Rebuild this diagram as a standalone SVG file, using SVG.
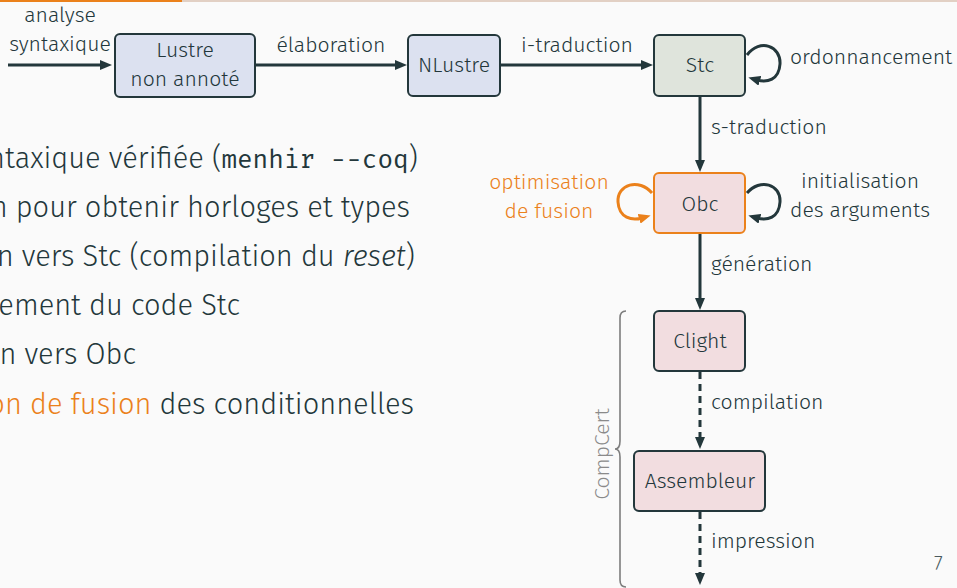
<svg xmlns="http://www.w3.org/2000/svg" width="957" height="588" viewBox="0 0 957 588">
  <style>
    .lbl { font-family: "Fira Sans", "Open Sans", "Noto Sans", sans-serif; font-weight: 300; font-size: 21.2px; fill: #23373b; }
    .body { font-family: "Fira Sans", "Open Sans", "Noto Sans", sans-serif; font-weight: 300; font-size: 29px; fill: #23373b; }
    .mono { font-family: "Fira Mono", "DejaVu Sans Mono", "Liberation Mono", monospace; font-weight: 400; font-size: 26px; }
    .orange { fill: #eb811b; }
    .box { stroke: #23373b; stroke-width: 2; }
    .blue { fill: #dce1f0; }
    .green { fill: #dfe4dc; }
    .pink { fill: #f2dde0; }
    .edge { fill: none; stroke: #23373b; stroke-width: 3; }
    .dashed { stroke-dasharray: 7 5; }
    .mid { text-anchor: middle; }
  </style>
  <defs>
    <marker id="arrow" viewBox="0 0 12 10" refX="3" refY="5" markerWidth="12" markerHeight="10" markerUnits="userSpaceOnUse" orient="auto">
      <path d="M0,0 L12,5 L0,10 z" fill="#23373b"/>
    </marker>
    <marker id="arrowOrange" viewBox="0 0 12 10" refX="3" refY="5" markerWidth="12" markerHeight="10" markerUnits="userSpaceOnUse" orient="auto">
      <path d="M0,0 L12,5 L0,10 z" fill="#eb811b"/>
    </marker>
  </defs>

  <rect width="957" height="588" fill="#fafafa"/>
  <!-- progress bar -->
  <rect x="0" y="0" width="957" height="2" fill="#e2d0c4"/>
  <rect x="0" y="0" width="182" height="2" fill="#eb811b"/>

  <!-- body text, clipped on the left -->
  <g id="bullets">
    <text class="body" x="418" y="168" text-anchor="end">ntaxique vérifiée (<tspan class="mono">menhir --coq</tspan>)</text>
    <text class="body" x="410" y="217" text-anchor="end">n pour obtenir horloges et types</text>
    <text class="body" x="415" y="266" text-anchor="end">n vers Stc (compilation du <tspan font-style="italic">reset</tspan>)</text>
    <text class="body" x="240" y="315" text-anchor="end">ement du code Stc</text>
    <text class="body" x="136" y="364" text-anchor="end">n vers Obc</text>
    <text class="body" x="414" y="414" text-anchor="end"><tspan class="orange">on de fusion</tspan> des conditionnelles</text>
  </g>

  <!-- connectors -->
  <g id="connectors">
    <path class="edge" d="M8,65 H103" marker-end="url(#arrow)"/>
    <path class="edge" d="M256,65 H398" marker-end="url(#arrow)"/>
    <path class="edge" d="M501,65 H644" marker-end="url(#arrow)"/>
    <path class="edge" d="M700,97 V163" marker-end="url(#arrow)"/>
    <path class="edge" d="M700,234 V301" marker-end="url(#arrow)"/>
    <path class="edge dashed" d="M700,372 V440" marker-end="url(#arrow)"/>
    <path class="edge dashed" d="M700,512 V576" marker-end="url(#arrow)"/>
    <!-- self loops -->
    <path class="edge" d="M747,55 C760,38 781,46 780,64 C779,80 767,83 757,80" marker-end="url(#arrow)"/>
    <path class="edge" d="M747,193 C760,178 781,184 780,202 C779,218 767,221 757,218" marker-end="url(#arrow)"/>
    <path class="edge" d="M652,193 C639,178 617,184 618,202 C619,218 632,221 642,218" style="stroke:#eb811b" marker-end="url(#arrowOrange)"/>
    <!-- labels -->
    <text class="lbl mid" x="60" y="22">analyse</text>
    <text class="lbl mid" x="60" y="51">syntaxique</text>
    <text class="lbl mid" x="331" y="52">élaboration</text>
    <text class="lbl mid" x="577" y="52">i-traduction</text>
    <text class="lbl" x="790" y="64">ordonnancement</text>
    <text class="lbl" x="711" y="134">s-traduction</text>
    <text class="lbl mid orange" x="549" y="189">optimisation</text>
    <text class="lbl mid orange" x="549" y="218">de fusion</text>
    <text class="lbl mid" x="860" y="188">initialisation</text>
    <text class="lbl mid" x="860" y="217">des arguments</text>
    <text class="lbl" x="711" y="271">génération</text>
    <text class="lbl" x="711" y="409">compilation</text>
    <text class="lbl" x="711" y="548">impression</text>
  </g>

  <!-- nodes -->
  <g id="lustre">
    <rect class="box blue" x="115" y="34" width="140" height="63" rx="5"/>
    <text class="lbl mid" x="185" y="57">Lustre</text>
    <text class="lbl mid" x="185" y="86">non annoté</text>
  </g>
  <g id="nlustre">
    <rect class="box blue" x="408" y="35" width="92" height="61" rx="5"/>
    <text class="lbl mid" x="454" y="72">NLustre</text>
  </g>
  <g id="stc">
    <rect class="box green" x="654" y="35" width="91" height="61" rx="5"/>
    <text class="lbl mid" x="700" y="72">Stc</text>
  </g>
  <g id="obc">
    <rect class="box pink" x="654" y="173" width="91" height="60" rx="5" style="stroke:#eb811b"/>
    <text class="lbl mid" x="700" y="211">Obc</text>
  </g>
  <g id="clight">
    <rect class="box pink" x="654" y="311" width="91" height="60" rx="5"/>
    <text class="lbl mid" x="700" y="348">Clight</text>
  </g>
  <g id="assembleur">
    <rect class="box pink" x="634" y="451" width="131" height="60" rx="5"/>
    <text class="lbl mid" x="700" y="488">Assembleur</text>
  </g>

  <!-- CompCert brace -->
  <g id="compcert">
    <path d="M626,311 C621,311 620,314 620,318 V441 C620,446 618,449 615,449 C618,449 620,452 620,457 V580 C620,584 621,587 626,587" fill="none" stroke="#7d7d7d" stroke-width="1.6"/>
    <text class="lbl mid" x="0" y="0" transform="translate(609,454) rotate(-90)" style="fill:#8a8a8a">CompCert</text>
  </g>

  <text class="lbl" x="934" y="570" style="font-size:20px;fill:#4a5a5e">7</text>
</svg>
